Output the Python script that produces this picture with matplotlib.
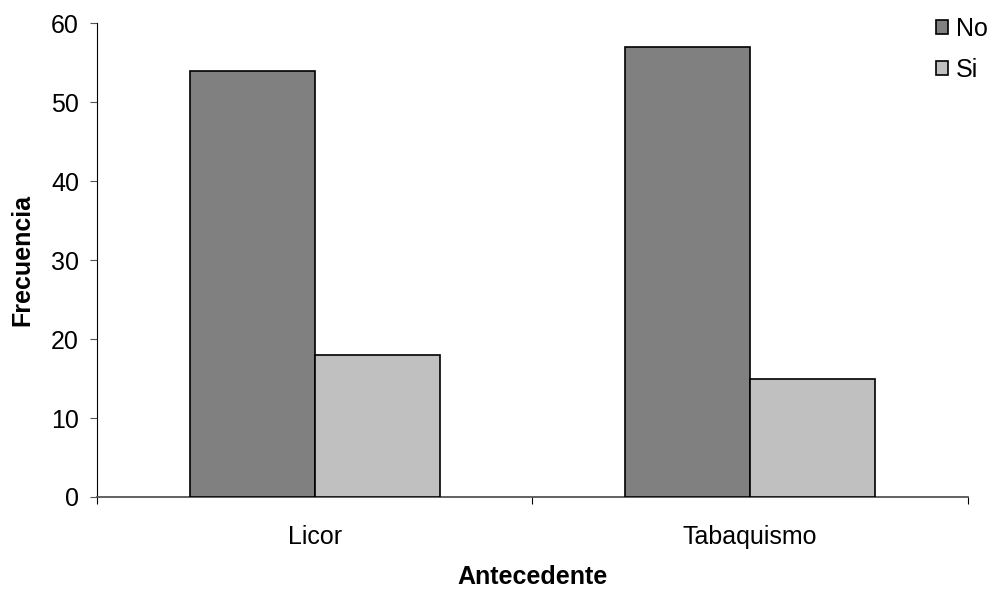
import matplotlib.pyplot as plt
import numpy as np

plt.rcParams['font.family'] = ['Liberation Sans', 'DejaVu Sans']

# Data
categories = ["Licor", "Tabaquismo"]
no_vals = [54, 57]
si_vals = [18, 15]

fig = plt.figure(figsize=(9.94, 5.93), dpi=100)
ax = fig.add_axes([0.0976, 0.1619, 0.876, 0.799])

x = np.arange(len(categories))
w = 0.287
ax.bar(x - w/2, no_vals, w, color="#808080", edgecolor="black", linewidth=1.2, label="No", zorder=3)
ax.bar(x + w/2, si_vals, w, color="#c0c0c0", edgecolor="black", linewidth=1.2, label="Si", zorder=3)

ax.set_xlim(-0.5, 1.5)
ax.set_ylim(0, 60)
ax.set_yticks(range(0, 61, 10))

# category labels between boundary ticks
ax.set_xticks([-0.5, 0.5, 1.5])
ax.set_xticklabels([])
ax.set_xticks(x, minor=True)
ax.set_xticklabels(categories, minor=True)
ax.tick_params(axis='x', which='minor', length=0, pad=20, labelsize=18)
ax.tick_params(axis='x', which='major', length=5, color='black', direction='out')
ax.tick_params(axis='y', length=5, direction='out', labelsize=18, pad=8, color='#555555')

for s in ['top', 'right']:
    ax.spines[s].set_visible(False)
ax.spines['left'].set_color('black')
ax.spines['bottom'].set_color('#555555')
ax.spines['bottom'].set_linewidth(1.3)

ax.set_xlabel("Antecedente", fontsize=18, fontweight='bold', labelpad=12)
ax.set_ylabel("Frecuencia", fontsize=18, fontweight='bold', labelpad=12)

fig.legend(loc='upper right', bbox_to_anchor=(1.016, 1.01), frameon=False, fontsize=18,
           handlelength=0.5, handleheight=0.5, handletextpad=0.3, labelspacing=0.7)

fig.savefig("out.png", dpi=100)
